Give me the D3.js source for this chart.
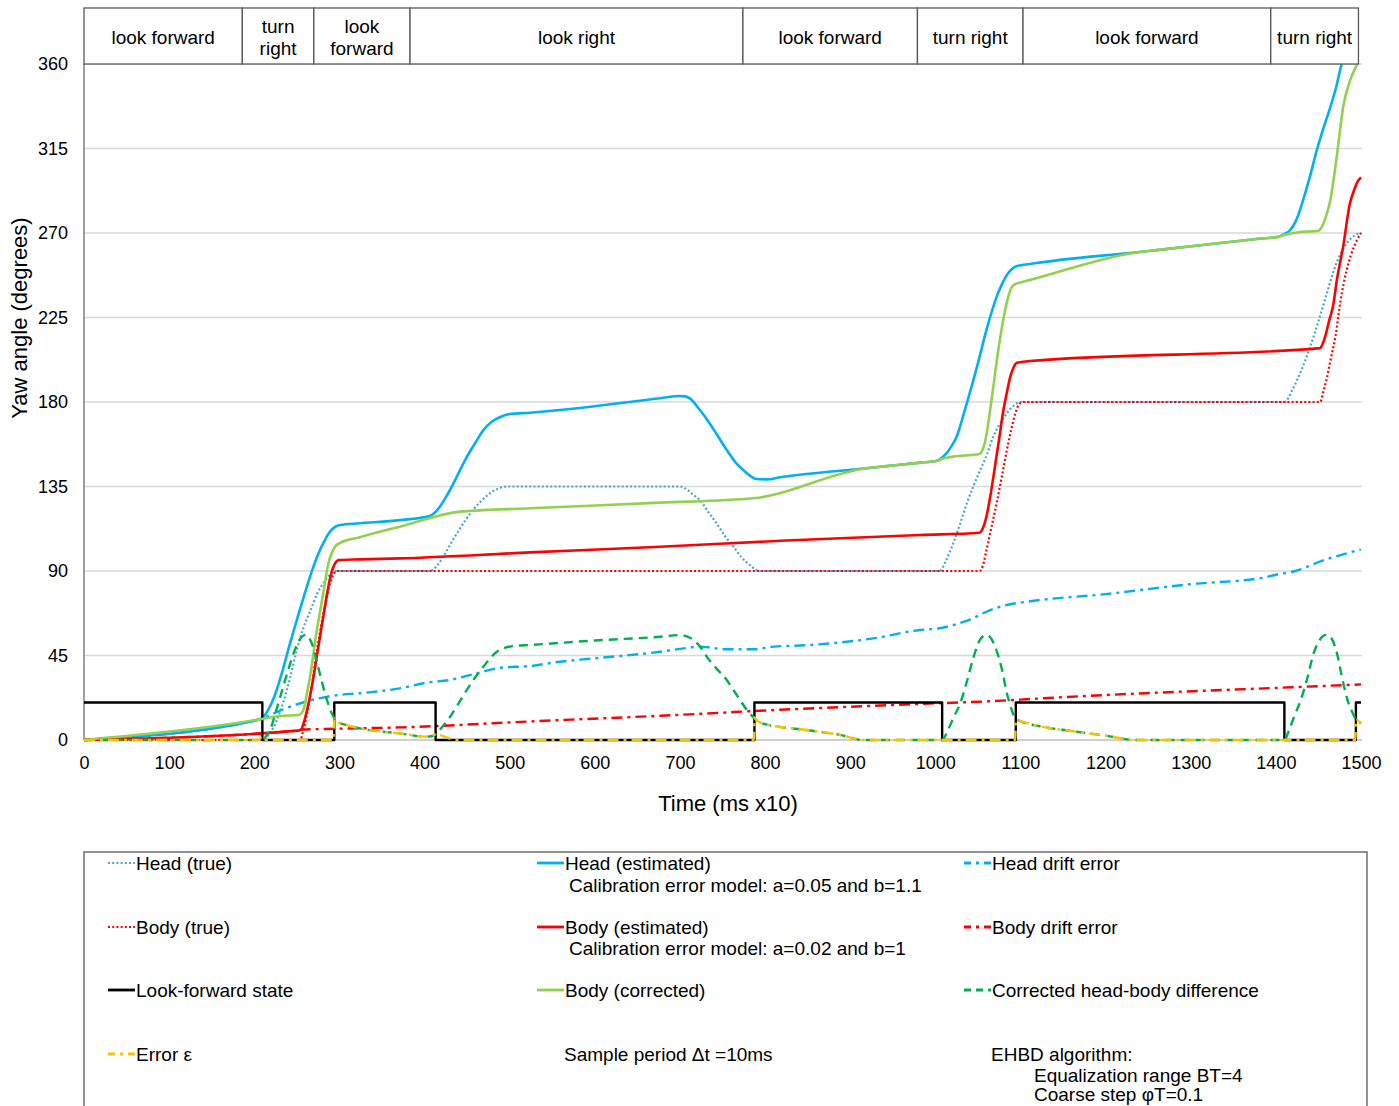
<!DOCTYPE html>
<html>
<head>
<meta charset="utf-8">
<script src="https://cdn.jsdelivr.net/npm/d3@7"></script>
<style>
  body { margin: 0; background: #fff; }
  svg { display: block; }
  text { font-family: "Liberation Sans", Arial, sans-serif; fill: #000; }
</style>
</head>
<body>
<svg id="chart" width="1399" height="1106"></svg>
<script>
// ---- Data: [time (ms x10), yaw angle (deg)] ----
const headTrue = [[0,0],[210,0],[218,3.5],[226,10],[234,20],[242,33],[250,48],[258,60],[266,69],[274,78],[282,84],[290,88.5],[297,90],
  [406,90],[414,92.5],[422,97.6],[430,104],[438,110],[448,117],[457,122.5],[467,127.5],[477,131.4],[487,134],[497,135],
  [700,135],[708,133.5],[716,130.5],[724,127.5],[734,121],[743,115.4],[753,108.5],[763,102.9],[772,97.5],[782,93.2],[790,90.5],[796,90],
  [1005,90],[1013,96],[1021,104.7],[1029,115],[1037,126],[1045,135.5],[1053,144],[1061,152.5],[1068,161.5],[1076,168.5],[1084,174],[1092,178],[1100,180],
  [1410,180],[1420,187],[1430,197],[1440,209],[1450,223],[1460,238],[1468,250],[1476,259],[1484,265],[1492,268.5],[1500,270]];

const headEst = [[0,0],[207,11],[211,12.5],[215,15],[222,21.3],[232,35],[242,51.5],[252,67],[262,82],[270,93],[277,101],[283,106.5],[289,111],[295,113.5],[301,114.5],
  [324,115.4],[371,117.1],[406,119.3],[412,121],[418,124.2],[426,130],[434,136.7],[442,144],[450,151],[460,158.5],[469,165],[479,169.5],[489,172],[500,173.6],[524,174.3],
  [677,182],[700,183.2],[706,183],[712,181.8],[723,176],[735,168.6],[745,161.5],[755,154.4],[765,148],[775,143.5],[783,140.5],[790,139],[802,138.8],[818,139.9],
  [919,144.7],[940,145.7],[980,147.6],[1002,148.7],[1008,150.5],[1013,152.6],[1019,156.5],[1025,161.5],[1031,170],[1037,179.3],[1049,198.8],[1060,218.3],[1072,236],[1078,242.5],[1084,247.6],[1090,250.8],[1096,252.4],
  [1111,253.5],[1240,259.9],[1260,260.9],[1380,266.9],[1403,268],[1410,269.5],[1417,271.6],[1425,278],[1432,287.5],[1440,300],[1448,314],[1456,326],[1464,337],[1471,348],[1477,359.4],[1485,366],[1492,370],[1500,372]];

const headDrift = [[0,0],[207,11],[215,12.5],[222,14],[235,16.5],[250,19],[265,21],[285,23],[300,24],[324,24.9],[371,27.5],[402,30.5],[430,32],[461,35.5],[489,38.5],[524,39.4],
  [559,41.7],[600,43.5],[677,47],[700,48.5],[723,49.7],[755,48.3],[786,48.3],[810,49.7],[849,50.5],[927,54.1],[982,58.6],[1005,59.5],[1021,61.2],[1040,64],[1060,68.3],
  [1080,71.5],[1107,73.6],[1200,77.7],[1300,83],[1386,86.5],[1400,88],[1423,90],[1454,95.4],[1480,99],[1500,101.5]];

const bodyTrue = [[0,0],[254,0],[257,4],[262,14],[268,30],[273,46],[279,62],[285,76],[289,83.5],[293,88],[297,90],
  [1052,90],[1056,93],[1060,101],[1066,113.5],[1072,126],[1078,140],[1084,154.4],[1089,165],[1094,174],[1098,178.5],[1103,180],
  [1452,180],[1456,186],[1460,193],[1464,202],[1470,215],[1476,234],[1483,250],[1488,258],[1495,266],[1500,270]];

const bodyEst = [[0,0],[251,5],[255,5.5],[258,9],[263,18],[269,32],[274,46],[279,60],[283,71],[287,81.6],[290,88],[293,92.3],[296,94.8],[299,95.8],
  [324,96.2],[371,96.7],[524,99.9],[677,102.9],[818,106.1],[982,109.2],[1052,110.4],[1055,112],[1060,118.9],[1065,131],[1070,145.5],[1075,160.5],[1080,175.7],
  [1084,185],[1088,193.4],[1092,198.5],[1096,200.9],[1111,201.8],[1452,208.7],[1455,211],[1458,215],[1463,224],[1467,230.7],[1472,246],[1479,262.7],[1487,285.8],
  [1492,293],[1496,297.3],[1500,299.6]];

const bodyDrift = [[0,0],[251,5],[255,5.5],[297,6],[371,6.7],[524,9.9],[677,12.9],[818,16.1],[982,19.2],[1052,20.4],[1100,21.5],[1111,21.8],[1452,28.7],[1500,29.6]];

const lookForward = [[0,20],[209.5,0],[294,20],[413,0],[787.5,20],[1008,0],[1094.5,20],[1410,0],[1494,20],[1500,20]];

const bodyCorrected = [[0,0],[207,11],[230,12.8],[252,13.3],[256,14.5],[259,18],[262,25],[266,35],[273,57],[281,78],[287,94],[291,99.5],[295,103],[301,105],
  [324,108],[371,113.6],[442,121.6],[524,123.4],[677,126.4],[786,128.7],[919,144.7],[940,145.7],[980,147.6],[1002,148.7],[1010,150],[1021,150.9],[1052,152.3],[1055,154],[1058,158],
  [1062,168],[1066,181],[1074,207.7],[1082,229],[1086,236.5],[1090,241.4],[1095,243],[1100,243.7],[1111,245],[1240,259.9],[1260,260.9],[1380,266.9],[1403,268],[1410,269],[1425,270.3],
  [1450,271.2],[1454,273.3],[1459,279],[1464,287.5],[1471.5,310.6],[1479,337],[1487,351],[1495,359.4],[1500,364]];

const headBodyDiff = [[0,0],[210,0],[214,2],[218.5,5.3],[226,16],[234,28.4],[240,37.5],[246,46],[251,51.5],[256,55],[261,56],[265,54],[268,51],[275,39],[283,24.9],
  [287,19],[291,14.2],[294,11.5],[297,9.8],[310,7.8],[324,6.2],[371,3.5],[402,1.8],[408,2],[414,3.5],[420,6.5],[430,12.4],[440,19.5],[449.5,26.6],[459,33],[469,39],
  [477,43.5],[485,47],[495,49.2],[504,50],[524,50.6],[600,53],[677,55],[700,55.9],[708,55.2],[716,53.2],[724,49.5],[731.5,44.4],[743,38],[755,32],[763,26.5],
  [770.6,21.3],[777,17],[782,14.2],[786,12.2],[790,10.5],[800,8.5],[849,5.3],[888,2.7],[915,0],
  [1008,0],[1015,5.5],[1022,12.5],[1029,19.3],[1037,31],[1044.6,43.7],[1052,53],[1057,55.5],[1060,56],[1064,55],[1072,47.5],[1078,38],[1084,25],[1089,17],
  [1094,11.5],[1100,10],[1123,7.3],[1160,4.8],[1200,2.3],[1235,0],
  [1410,0],[1416,6],[1422,13],[1429,21],[1437,33],[1444,45.6],[1451,53],[1456,55.5],[1460,56],[1464,55],[1471,47.5],[1479,30.6],[1485,20],[1489,15.6],[1494,11],[1500,9]];

const errorEps = [[0,0],[205,0],[209,1.8],[212,0],[293,0],[294,11.5],[297,9.8],[310,7.8],[324,6.2],[371,3.5],[402,1.8],[408,2],[414,3.2],[425,1.5],[438,0],
  [787,0],[787.5,12],[790,10.5],[800,8.5],[849,5.3],[888,2.7],[915,0],[1094,0],[1094.5,10.5],[1100,10],[1123,7.3],[1160,4.8],[1200,2.3],[1235,0],
  [1493.5,0],[1494,11],[1500,9]];

const xTicks = [0,100,200,300,400,500,600,700,800,900,1000,1100,1200,1300,1400,1500];
const yTicks = [0,45,90,135,180,225,270,315,360];

const phaseBounds = [0,186,270,383,774,979,1103,1394,1497];
const phaseLabels = [["look forward"],["turn","right"],["look","forward"],["look right"],["look forward"],["turn right"],["look forward"],["turn right"]];

// ---- Series styling, in drawing order ----
const series = [
  {key:"headTrue",      data:headTrue,      color:"#47a7c9", width:2.2, dash:"2,2.2",    label:"Head (true)"},
  {key:"headEst",       data:headEst,       color:"#00b0f0", width:2.6, dash:null,       label:"Head (estimated)"},
  {key:"headDrift",     data:headDrift,     color:"#00b0f0", width:2.4, dash:"11,5,3,5", label:"Head drift error"},
  {key:"bodyTrue",      data:bodyTrue,      color:"#ff0000", width:2.2, dash:"2,2.2",    label:"Body (true)"},
  {key:"bodyEst",       data:bodyEst,       color:"#ff0000", width:2.6, dash:null,       label:"Body (estimated)"},
  {key:"bodyDrift",     data:bodyDrift,     color:"#ff0000", width:2.4, dash:"11,5,3,5", label:"Body drift error"},
  {key:"lookForward",   data:lookForward,   color:"#000000", width:2.4, dash:null,       label:"Look-forward state", step:true},
  {key:"bodyCorrected", data:bodyCorrected, color:"#92d050", width:2.6, dash:null,       label:"Body (corrected)"},
  {key:"headBodyDiff",  data:headBodyDiff,  color:"#00b050", width:2.4, dash:"9,6",      label:"Corrected head-body difference"},
  {key:"errorEps",      data:errorEps,      color:"#ffc000", width:2.4, dash:"11,5,3,5", label:"Error \u03b5"}
];

const svg = d3.select("#chart");
const x = d3.scaleLinear().domain([0,1500]).range([84,1361]);
const y = d3.scaleLinear().domain([0,360]).range([740,64]);

// gridlines
svg.append("g").selectAll("line").data(yTicks.filter(d => d > 0)).join("line")
  .attr("x1", x(0)).attr("x2", x(1500) + 1)
  .attr("y1", d => y(d)).attr("y2", d => y(d))
  .attr("stroke", "#d9d9d9").attr("stroke-width", 1.3);

// axes
const gy = svg.append("g").attr("transform", `translate(${x(0)},0)`)
  .call(d3.axisLeft(y).tickValues(yTicks).tickFormat(d3.format("d")).tickSize(0).tickPadding(16));
const gx = svg.append("g").attr("transform", `translate(0,${y(0)})`)
  .call(d3.axisBottom(x).tickValues(xTicks).tickFormat(d3.format("d")).tickSize(0).tickPadding(16));
[gx, gy].forEach(g => {
  g.select(".domain").remove();
  g.attr("font-size", null).attr("font-family", null);
  g.selectAll("text").attr("font-size", "18px").attr("fill", "#000");
});

svg.append("line").attr("x1", x(0)).attr("x2", x(1500) + 1).attr("y1", y(0)).attr("y2", y(0))
  .attr("stroke", "#bfbfbf").attr("stroke-width", 1.3);
svg.append("line").attr("x1", x(0)).attr("x2", x(0)).attr("y1", y(360)).attr("y2", y(0))
  .attr("stroke", "#7f7f7f").attr("stroke-width", 1.5);

// axis titles
svg.append("text").attr("transform", "translate(27,318) rotate(-90)")
  .attr("text-anchor", "middle").attr("font-size", "22px").text("Yaw angle (degrees)");
svg.append("text").attr("x", 728).attr("y", 811)
  .attr("text-anchor", "middle").attr("font-size", "22px").text("Time (ms x10)");

// series lines
svg.append("defs").append("clipPath").attr("id", "plotClip")
  .append("rect").attr("x", 80).attr("y", y(360)).attr("width", 1290).attr("height", y(0) - y(360) + 6);

const plotG = svg.append("g").attr("clip-path", "url(#plotClip)");
series.forEach(s => {
  const line = d3.line().x(d => x(d[0])).y(d => y(d[1]))
    .curve(s.step ? d3.curveStepAfter : d3.curveMonotoneX);
  plotG.append("path").datum(s.data)
    .attr("fill", "none")
    .attr("stroke", s.color)
    .attr("stroke-width", s.width)
    .attr("stroke-dasharray", s.dash)
    .attr("stroke-linejoin", "round")
    .attr("d", line);
});

// phase header
const hdr = svg.append("g");
phaseLabels.forEach((lab, i) => {
  const x0 = x(phaseBounds[i]), x1 = x(phaseBounds[i + 1]);
  hdr.append("rect").attr("x", x0).attr("y", 8).attr("width", x1 - x0).attr("height", 56)
    .attr("fill", "#fff").attr("stroke", "#595959").attr("stroke-width", 1.3);
  const cx = (x0 + x1) / 2;
  const lines = lab.length === 1 ? [37] : [26, 48];
  lab.forEach((t, j) => {
    hdr.append("text").attr("x", cx).attr("y", lines[j]).attr("dy", "0.35em")
      .attr("text-anchor", "middle").attr("font-size", "19px").text(t);
  });
});

// legend
const lg = svg.append("g");
lg.append("rect").attr("x", 84).attr("y", 852).attr("width", 1283).attr("height", 300)
  .attr("fill", "none").attr("stroke", "#595959").attr("stroke-width", 1.3);
const colX = [108, 537, 964];
const rowY = [863, 927, 990, 1054];
const legendOrder = ["headTrue","headEst","headDrift","bodyTrue","bodyEst","bodyDrift","lookForward","bodyCorrected","headBodyDiff","errorEps"];
legendOrder.forEach((k, i) => {
  const s = series.find(d => d.key === k);
  const cx = colX[i % 3], cy = rowY[Math.floor(i / 3)];
  lg.append("line").attr("x1", cx).attr("x2", cx + 27).attr("y1", cy).attr("y2", cy)
    .attr("stroke", s.color).attr("stroke-width", s.dash && s.dash.startsWith("2") ? 2 : 2.8)
    .attr("stroke-dasharray", s.dash ? (s.dash.startsWith("11") ? "7,5,3,5" : s.dash.startsWith("9") ? "7,5" : s.dash) : null);
  lg.append("text").attr("x", cx + 28).attr("y", cy).attr("dy", "0.35em")
    .attr("font-size", "19px").text(s.label);
});
const extra = [
  {x: 569, y: 885, t: "Calibration error model: a=0.05 and b=1.1"},
  {x: 569, y: 948, t: "Calibration error model: a=0.02 and b=1"},
  {x: 564, y: 1054, t: "Sample period \u0394t =10ms"},
  {x: 991, y: 1054, t: "EHBD algorithm:"},
  {x: 1034, y: 1075, t: "Equalization range BT=4"},
  {x: 1034, y: 1094, t: "Coarse step \u03c6T=0.1"}
];
extra.forEach(e => {
  lg.append("text").attr("x", e.x).attr("y", e.y).attr("dy", "0.35em")
    .attr("font-size", "19px").text(e.t);
});
</script>
</body>
</html>
